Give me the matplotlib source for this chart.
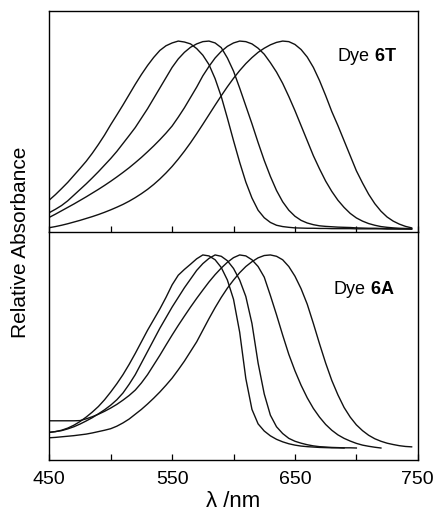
import matplotlib
matplotlib.use("Agg")
import matplotlib.pyplot as plt
from matplotlib.ticker import FixedLocator

plt.rcParams['font.family'] = ['Liberation Sans', 'DejaVu Sans']
plt.rcParams['mathtext.fontset'] = 'custom'
plt.rcParams['mathtext.rm'] = 'Liberation Sans'
plt.rcParams['mathtext.bf'] = 'Liberation Sans:bold'

# wavelength grid (nm), 5 nm steps
wl_6t = list(range(450, 750, 5))          # 450 ... 745

# ---- Dye 6T (upper panel), relative absorbance ----
abs_6t_1 = [.154, .183, .215, .248, .285, .322, .36, .403, .45, .50, .555, .607,
            .66, .715, .77, .822, .87, .913, .95, .975, .99, 1.0, .995, .985,
            .96, .925, .875, .80, .705, .59, .47, .355, .25, .165, .10, .06,
            .035, .02, .013, .009, .006, .005, .004, .004, .003, .003, .002,
            .002, .002, .002, .001, .001, .001, .001, .001, 0, 0, 0, 0, 0]
abs_6t_2 = [.087, .105, .125, .15, .18, .21, .24, .272, .305, .34, .375, .413,
            .455, .497, .54, .59, .64, .695, .75, .805, .86, .905, .94, .967,
            .985, .997, 1.0, .99, .965, .91, .84, .75, .655, .56, .46, .365,
            .28, .205, .145, .10, .068, .046, .032, .023, .017, .014, .012,
            .01, .009, .008, .006, .005, .004, .004, .003, .002, .002, .001,
            .001, 0]
abs_6t_3 = [.062, .079, .097, .115, .133, .152, .171, .191, .211, .232, .254,
            .277, .301, .326, .353, .381, .411, .442, .475, .51, .548, .595,
            .645, .70, .755, .815, .865, .91, .945, .972, .99, 1.0, .997, .985,
            .962, .93, .885, .835, .775, .705, .63, .55, .47, .39, .32, .255,
            .20, .153, .115, .083, .059, .042, .029, .02, .013, .009, .006,
            .004, .003, .002]
abs_6t_4 = [.007, .013, .02, .028, .037, .046, .056, .066, .077, .089, .102,
            .116, .131, .148, .167, .188, .211, .237, .266, .298, .333, .372,
            .414, .459, .507, .557, .608, .659, .709, .757, .802, .843, .88,
            .912, .94, .962, .98, .993, 1.0, .997, .982, .955, .915, .86, .79,
            .71, .625, .55, .47, .39, .31, .245, .185, .135, .095, .064, .042,
            .026, .014, .006]

# ---- Dye 6A (lower panel) ----
wl_6a_1 = list(range(450, 695, 5))        # 450 ... 690
abs_6a_1 = [.081, .085, .092, .103, .118, .137, .16, .186, .215, .25, .29, .333,
            .38, .433, .49, .55, .61, .665, .72, .78, .845, .895, .925, .952,
            .98, 1.0, .995, .975, .935, .87, .77, .60, .36, .20, .125, .088,
            .063, .045, .032, .022, .015, .01, .007, .005, .003, .002, .001,
            .001, 0]

wl_6a_2 = list(range(450, 705, 5))        # 450 ... 700
abs_6a_2 = [.081, .085, .09, .099, .11, .124, .14, .157, .177, .198, .222, .25,
            .285, .33, .38, .44, .50, .56, .62, .675, .73, .78, .83, .875, .92,
            .955, .982, 1.0, .993, .97, .93, .87, .785, .645, .44, .28, .17,
            .11, .075, .05, .035, .025, .017, .011, .007, .005, .003, .002,
            .001, .001, 0]

wl_6a_3 = list(range(450, 725, 5))        # 450 ... 720
abs_6a_3 = [.141, .141, .141, .141, .141, .142, .151, .162, .175, .19, .207,
            .226, .248, .272, .30, .337, .38, .43, .48, .533, .585, .635, .683,
            .73, .775, .818, .86, .898, .932, .962, .986, 1.0, .995, .975, .94,
            .885, .79, .69, .585, .485, .40, .325, .26, .205, .16, .122, .092,
            .068, .05, .036, .024, .015, .009, .004, 0]

wl_6a_4 = list(range(450, 750, 5))        # 450 ... 745
abs_6a_4 = [.053, .055, .058, .061, .064, .068, .072, .078, .085, .092, .10,
            .113, .13, .15, .175, .20, .228, .258, .29, .325, .362, .405, .45,
            .50, .55, .61, .67, .727, .78, .828, .87, .908, .94, .965, .985,
            .997, 1.0, .993, .975, .94, .89, .825, .745, .645, .54, .44, .35,
            .275, .21, .16, .12, .09, .066, .048, .035, .025, .018, .012, .008,
            .006]

top_series = [abs_6t_1, abs_6t_2, abs_6t_3, abs_6t_4]
bottom_series = [(wl_6a_1, abs_6a_1), (wl_6a_2, abs_6a_2),
                 (wl_6a_3, abs_6a_3), (wl_6a_4, abs_6a_4)]

xtick_major = [450, 550, 650, 750]
xtick_minor = [500, 600, 700]

fig = plt.figure(figsize=(4.35, 5.14), dpi=100)
ax_top = fig.add_axes([0.1133, 0.5486, 0.8471, 0.4300])
ax_bot = fig.add_axes([0.1133, 0.1051, 0.8471, 0.4436])

line_kw = dict(color='#111111', lw=1.0)
for ys in top_series:
    ax_top.plot(wl_6t, ys, **line_kw)
for xs, ys in bottom_series:
    ax_bot.plot(xs, ys, **line_kw)

ax_top.set_ylim(-0.016, 1.16)
ax_bot.set_ylim(-0.062, 1.119)

for ax in (ax_top, ax_bot):
    ax.set_xlim(450, 750)
    ax.set_yticks([])
    ax.xaxis.set_major_locator(FixedLocator(xtick_major))
    ax.xaxis.set_minor_locator(FixedLocator(xtick_minor))
    ax.tick_params(axis='x', which='both', direction='in', length=4,
                   width=0.9, top=False, pad=8, labelsize=14)
    for sp in ax.spines.values():
        sp.set_linewidth(1.0)

ax_top.tick_params(axis='x', labelbottom=False)
ax_top.spines['bottom'].set_visible(False)

ax_bot.set_xlabel('λ /nm', fontsize=16, labelpad=2)
fig.text(0.048, 0.528, 'Relative Absorbance', rotation=90, fontsize=15,
         ha='center', va='center')

ax_top.text(0.78, 0.792, r'Dye $\mathbf{6T}$', transform=ax_top.transAxes,
            fontsize=13, ha='left', va='center')
ax_bot.text(0.77, 0.746, r'Dye $\mathbf{6A}$', transform=ax_bot.transAxes,
            fontsize=13, ha='left', va='center')

fig.savefig('out.png', dpi=100)
